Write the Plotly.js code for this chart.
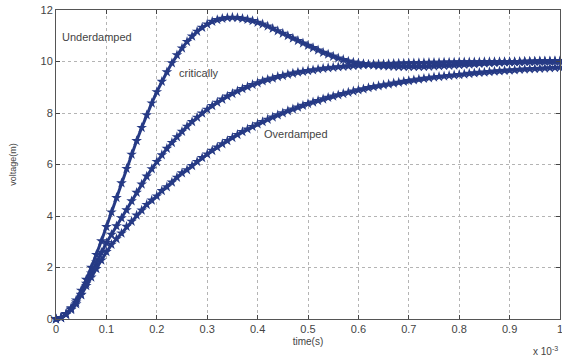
<!DOCTYPE html>
<html>
<head>
<meta charset="utf-8">
<script src="https://cdn.plot.ly/plotly-3.0.1.min.js"></script>
<style>html,body{margin:0;padding:0;background:#fff;}#chart{width:562px;height:360px;}</style>
</head>
<body>
<div id="chart"></div>
<script>
// time in units of 1e-3 s
const time = [0,0.01,0.02,0.03,0.04,0.05,0.06,0.07,0.08,0.09,0.10,0.11,0.12,0.13,0.14,0.15,0.16,0.17,0.18,0.19,0.20,0.21,0.22,0.23,0.24,0.25,0.26,0.27,0.28,0.29,0.30,0.31,0.32,0.33,0.34,0.35,0.36,0.37,0.38,0.39,0.40,0.41,0.42,0.43,0.44,0.45,0.46,0.47,0.48,0.49,0.50,0.51,0.52,0.53,0.54,0.55,0.56,0.57,0.58,0.59,0.60,0.61,0.62,0.63,0.64,0.65,0.66,0.67,0.68,0.69,0.70,0.71,0.72,0.73,0.74,0.75,0.76,0.77,0.78,0.79,0.80,0.81,0.82,0.83,0.84,0.85,0.86,0.87,0.88,0.89,0.90,0.91,0.92,0.93,0.94,0.95,0.96,0.97,0.98,0.99,1.00];

const underdamped = [0,0.05,0.20,0.43,0.73,1.11,1.53,2.00,2.50,3.03,3.58,4.15,4.71,5.28,5.84,6.39,6.92,7.43,7.92,8.38,8.82,9.22,9.59,9.94,10.25,10.52,10.77,10.98,11.17,11.32,11.45,11.55,11.62,11.67,11.70,11.71,11.70,11.67,11.63,11.58,11.52,11.45,11.37,11.28,11.19,11.09,11.00,10.90,10.81,10.71,10.62,10.53,10.44,10.35,10.28,10.20,10.13,10.07,10.01,9.97,9.94,9.91,9.88,9.86,9.84,9.83,9.82,9.81,9.80,9.80,9.80,9.80,9.80,9.80,9.81,9.82,9.83,9.84,9.85,9.86,9.87,9.88,9.89,9.90,9.92,9.93,9.94,9.95,9.96,9.97,9.98,9.98,9.99,10.00,10.00,10.01,10.02,10.02,10.02,10.03,10.03];

const critically = [0,0.05,0.19,0.39,0.65,0.95,1.38,1.78,2.20,2.58,2.96,3.28,3.61,3.92,4.23,4.58,4.91,5.23,5.54,5.83,6.11,6.37,6.62,6.85,7.07,7.28,7.48,7.66,7.83,7.99,8.14,8.28,8.41,8.53,8.65,8.75,8.85,8.94,9.02,9.10,9.17,9.24,9.30,9.35,9.41,9.45,9.50,9.54,9.58,9.61,9.64,9.67,9.70,9.73,9.75,9.77,9.79,9.81,9.82,9.84,9.85,9.87,9.88,9.89,9.90,9.90,9.91,9.92,9.93,9.93,9.94,9.94,9.95,9.95,9.96,9.96,9.96,9.97,9.97,9.97,9.98,9.98,9.98,9.98,9.98,9.99,9.99,9.99,9.99,9.99,9.99,9.99,9.99,10.00,10.00,10.00,10.00,10.00,10.00,10.00,10.00];

const overdamped = [0,0.05,0.17,0.36,0.58,0.93,1.29,1.62,1.95,2.28,2.61,2.89,3.11,3.33,3.59,3.79,4.03,4.22,4.44,4.61,4.77,4.98,5.13,5.31,5.50,5.67,5.79,5.95,6.11,6.26,6.40,6.54,6.67,6.80,6.92,7.04,7.16,7.27,7.37,7.47,7.57,7.66,7.75,7.84,7.92,8.00,8.08,8.15,8.22,8.29,8.36,8.42,8.48,8.54,8.60,8.65,8.70,8.75,8.80,8.85,8.89,8.93,8.98,9.02,9.05,9.09,9.12,9.16,9.19,9.22,9.25,9.28,9.31,9.34,9.36,9.39,9.41,9.43,9.45,9.47,9.49,9.51,9.53,9.55,9.57,9.58,9.60,9.62,9.63,9.65,9.66,9.67,9.69,9.70,9.71,9.72,9.73,9.74,9.75,9.76,9.77];

const xTicks = [0,0.1,0.2,0.3,0.4,0.5,0.6,0.7,0.8,0.9,1];
const xTickText = ['0','0.1','0.2','0.3','0.4','0.5','0.6','0.7','0.8','0.9','1'];
const yTicks = [0,2,4,6,8,10,12];

const curveColor = '#263a85';
function series(y, name) {
  return {
    x: time, y: y, name: name, type: 'scatter', mode: 'lines+markers',
    line: {color: curveColor, width: 3},
    marker: {symbol: 'star', size: 8, color: curveColor, line: {width: 0}},
    hoverinfo: 'skip', cliponaxis: false
  };
}

const data = [series(underdamped, 'Underdamped'), series(critically, 'critically'), series(overdamped, 'Overdamped')];

const fam = 'Liberation Sans, Arial, sans-serif';
const tickFont = {family: fam, size: 11, color: '#444'};
const layout = {
  width: 562, height: 360,
  margin: {l: 56, r: 2, t: 10, b: 41},
  paper_bgcolor: '#fff', plot_bgcolor: '#fff',
  showlegend: false,
  font: tickFont,
  xaxis: {
    range: [0, 1], tickvals: xTicks, ticktext: xTickText,
    ticks: 'inside', ticklen: 4, tickcolor: '#444',
    showline: true, linecolor: '#555', linewidth: 1, mirror: 'ticks',
    showgrid: true, gridcolor: '#b4b4b4', griddash: 'dot', gridwidth: 1,
    zeroline: false, tickfont: tickFont, ticklabeloverflow: 'allow',
    title: {text: 'time(s)', font: {family: fam, size: 10, color: '#444'}, standoff: 3}
  },
  yaxis: {
    range: [0, 12], tickvals: yTicks,
    ticks: 'inside', ticklen: 4, tickcolor: '#444',
    showline: true, linecolor: '#555', linewidth: 1, mirror: 'ticks',
    showgrid: true, gridcolor: '#b4b4b4', griddash: 'dot', gridwidth: 1,
    zeroline: false, tickfont: tickFont, ticklabeloverflow: 'allow',
    title: {text: 'voltage(m)', font: {family: fam, size: 9, color: '#444'}, standoff: 22}
  },
  annotations: [
    {x: 0.008, y: 10.95, xref: 'x', yref: 'y', text: 'Underdamped', showarrow: false, xanchor: 'left', yanchor: 'middle',
     font: {family: fam, size: 11, color: '#444'}},
    {x: 0.24, y: 9.55, xref: 'x', yref: 'y', text: 'critically', showarrow: false, xanchor: 'left', yanchor: 'middle',
     font: {family: fam, size: 11, color: '#444'}},
    {x: 0.409, y: 7.18, xref: 'x', yref: 'y', text: 'Overdamped', showarrow: false, xanchor: 'left', yanchor: 'middle',
     font: {family: fam, size: 11, color: '#444'}},
    {x: 1, y: 0, xref: 'paper', yref: 'paper', text: 'x 10<sup>-3</sup>', showarrow: false, xanchor: 'right', yanchor: 'top', yshift: -24,
     font: {family: fam, size: 10, color: '#444'}}
  ]
};

Plotly.newPlot('chart', data, layout, {displayModeBar: false, staticPlot: true});
</script>
</body>
</html>
